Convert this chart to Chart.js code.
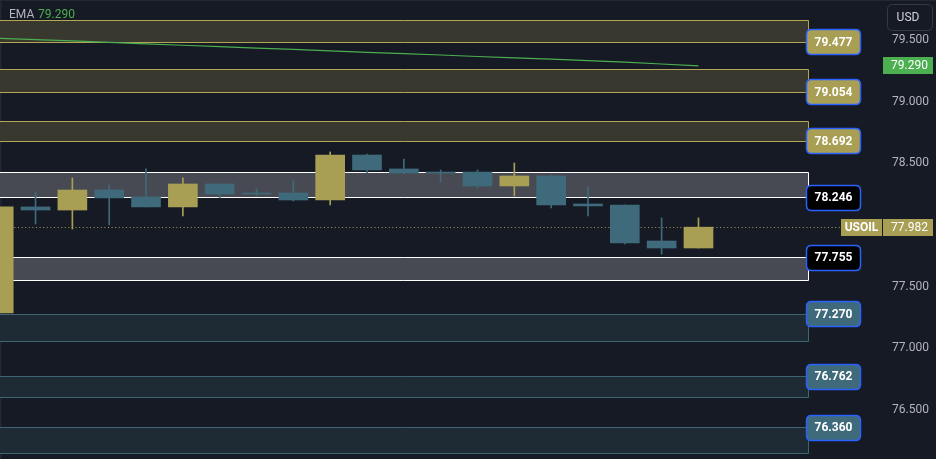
<!DOCTYPE html>
<html><head><meta charset="utf-8">
<script src="https://cdn.jsdelivr.net/npm/chart.js@4.4.1/dist/chart.umd.min.js"></script>
<style>html,body{margin:0;padding:0;background:#161a25;overflow:hidden}#wrap{width:936px;height:459px;position:relative}</style>
</head><body><div id="wrap"><canvas id="c" width="936" height="459"></canvas></div>
<script>
// ---- data ----
const candleIndex = [0,1,2,3,4,5,6,7,8,9,10,11,12,13,14,15,16,17,18,19];
const openV  = [77.286,78.146,78.121,78.283,78.227,78.146,78.332,78.259,78.259,78.202,78.567,78.454,78.429,78.429,78.316,78.397,78.170,78.162,77.870,77.813];
const highV  = [78.150,78.267,78.381,78.324,78.454,78.381,78.332,78.292,78.357,78.592,78.575,78.535,78.446,78.446,78.502,78.405,78.308,78.162,78.057,78.057];
const lowV   = [77.280,78.008,77.967,78.000,78.146,78.073,78.219,78.235,78.194,78.162,78.421,78.413,78.348,78.300,78.235,78.138,78.073,77.846,77.764,77.813];
const closeV = [78.146,78.121,78.283,78.219,78.146,78.332,78.251,78.251,78.202,78.567,78.446,78.421,78.421,78.316,78.397,78.162,78.154,77.854,77.813,77.982];
const emaV   = [79.514,79.503,79.492,79.480,79.469,79.457,79.446,79.434,79.423,79.412,79.400,79.389,79.378,79.366,79.355,79.344,79.332,79.321,79.305,79.290];

const zoneTop    = [79.658,79.262,78.846,78.429,77.736,77.278,76.775,76.358];
const zoneBottom = [79.484,79.081,78.683,78.223,77.554,77.056,76.602,76.148];
const zoneLabels = ['79.477','79.054','78.692','78.246','77.755','77.270','76.762','76.360'];
const zoneKind   = ['res','res','res','near','near','sup','sup','sup'];
const zoneSide   = ['bottom','bottom','bottom','bottom','top','top','top','top'];

const symbolName = 'USOIL';
const currencyName = 'USD';
const emaName = 'EMA';
const lastPrice = 77.982;
const emaLast = 79.290;

// ---- styling ----
const BG = '#161a25';
const UP = '#a89f55';
const DOWN = '#3f6a7b';
const FONT = 'Roboto, "Liberation Sans", "DejaVu Sans", sans-serif';
const zoneStyle = {
  res:  {fill:'#38382f', line:'#b3a654', badge:'#a89f55', text:'#ffffff'},
  near: {fill:'#474a53', line:'#ffffff', badge:'#000000', text:'#ffffff'},
  sup:  {fill:'#1e2a34', line:'#3d6575', badge:'#3f6a7b', text:'#ffffff'}
};
const candleColors = candleIndex.map((_, i) => closeV[i] >= openV[i] ? UP : DOWN);

function rr(ctx, x, y, w, h, r) {
  ctx.beginPath();
  ctx.moveTo(x + r, y);
  ctx.lineTo(x + w - r, y); ctx.quadraticCurveTo(x + w, y, x + w, y + r);
  ctx.lineTo(x + w, y + h - r); ctx.quadraticCurveTo(x + w, y + h, x + w - r, y + h);
  ctx.lineTo(x + r, y + h); ctx.quadraticCurveTo(x, y + h, x, y + h - r);
  ctx.lineTo(x, y + r); ctx.quadraticCurveTo(x, y, x + r, y);
  ctx.closePath();
}

const bgPlugin = {
  id: 'bg',
  beforeDraw(chart) {
    const ctx = chart.ctx;
    ctx.save();
    ctx.fillStyle = BG;
    ctx.fillRect(0, 0, chart.width, chart.height);
    ctx.fillStyle = '#232733';
    ctx.fillRect(0, 0, chart.width, 1);
    ctx.fillRect(0, 0, 1.5, chart.height);
    ctx.restore();
  }
};

const zonePlugin = {
  id: 'zones',
  beforeDatasetsDraw(chart) {
    const {ctx, chartArea: a, scales: {y}} = chart;
    ctx.save();
    ctx.beginPath();
    ctx.rect(a.left, a.top, a.right - a.left + 2, a.bottom - a.top);
    ctx.clip();
    zoneTop.forEach((t, i) => {
      const st = zoneStyle[zoneKind[i]];
      const y1 = Math.round(y.getPixelForValue(t)) + 0.5;
      const y2 = Math.round(y.getPixelForValue(zoneBottom[i])) + 0.5;
      const xr = a.right + 0.5;
      ctx.fillStyle = st.fill;
      ctx.fillRect(a.left, y1, xr - a.left, y2 - y1);
      ctx.strokeStyle = st.line;
      ctx.lineWidth = 1;
      ctx.beginPath();
      ctx.moveTo(a.left - 2, y1); ctx.lineTo(xr, y1); ctx.lineTo(xr, y2); ctx.lineTo(a.left - 2, y2);
      ctx.stroke();
    });
    ctx.restore();
    // dotted last price line
    const yp = Math.round(y.getPixelForValue(lastPrice)) + 0.5;
    ctx.save();
    ctx.strokeStyle = UP;
    ctx.lineWidth = 1;
    ctx.setLineDash([1, 2.6]);
    ctx.beginPath();
    ctx.moveTo(a.left, yp); ctx.lineTo(840, yp);
    ctx.stroke();
    ctx.restore();
  }
};

const labelPlugin = {
  id: 'labels',
  afterDraw(chart) {
    const {ctx, chartArea: a, scales: {y}} = chart;
    ctx.save();
    ctx.textAlign = 'center';
    ctx.textBaseline = 'middle';
    // zone badges
    zoneTop.forEach((t, i) => {
      const st = zoneStyle[zoneKind[i]];
      const v = zoneSide[i] === 'bottom' ? zoneBottom[i] : t;
      const yc = y.getPixelForValue(v);
      const x0 = a.right - 1.5, w = 54, h = 25;
      rr(ctx, x0, Math.round(yc - h / 2) + 0.5, w, h, 5);
      ctx.fillStyle = st.badge; ctx.fill();
      ctx.strokeStyle = '#2962ff'; ctx.lineWidth = 1.5; ctx.stroke();
      ctx.fillStyle = st.text;
      ctx.font = 'bold 12px ' + FONT;
      ctx.fillText(zoneLabels[i], x0 + w / 2, Math.round(yc) + 0.5);
    });
    // currency box
    rr(ctx, 887.5, 4.5, 45, 26, 5);
    ctx.fillStyle = BG; ctx.fill();
    ctx.strokeStyle = '#363a45'; ctx.lineWidth = 1; ctx.stroke();
    ctx.fillStyle = '#d1d4dc';
    ctx.font = '12px ' + FONT;
    ctx.fillText(currencyName, 908, 17.5);
    // EMA price badge
    const ye = y.getPixelForValue(emaLast);
    ctx.fillStyle = '#4caf50';
    ctx.fillRect(883, Math.round(ye - 8.5), 50, 17);
    ctx.fillStyle = '#ffffff';
    ctx.font = '12px ' + FONT;
    ctx.fillText(emaLast.toFixed(3), 909.5, Math.round(ye));
    // last price badges
    const yp = y.getPixelForValue(lastPrice);
    ctx.fillStyle = UP;
    ctx.fillRect(841, Math.round(yp - 8), 41, 17);
    ctx.fillRect(883, Math.round(yp - 8), 50, 17);
    ctx.fillStyle = '#ffffff';
    ctx.font = 'bold 12px ' + FONT;
    ctx.fillText(symbolName, 861.5, Math.round(yp) + 0.5);
    ctx.font = '12px ' + FONT;
    ctx.fillText(lastPrice.toFixed(3), 909.5, Math.round(yp) + 0.5);
    // legend
    ctx.textAlign = 'left';
    ctx.font = '12px ' + FONT;
    ctx.fillStyle = '#b2b5be';
    ctx.fillText(emaName, 9, 15);
    ctx.fillStyle = '#4caf50';
    ctx.fillText(emaLast.toFixed(3), 38, 15);
    ctx.restore();
  }
};

new Chart(document.getElementById('c'), {
  type: 'bar',
  data: {
    datasets: [
      {
        type: 'line',
        data: candleIndex.map((x, i) => ({x, y: emaV[i]})),
        borderColor: '#4caf50',
        borderWidth: 1.2,
        pointRadius: 0,
        tension: 0,
        order: 0
      },
      {
        data: candleIndex.map((x, i) => ({x, y: [openV[i], closeV[i]]})),
        backgroundColor: candleColors,
        borderWidth: 0,
        barThickness: 29,
        minBarLength: 1,
        grouped: false,
        order: 1
      },
      {
        data: candleIndex.map((x, i) => ({x, y: [lowV[i], highV[i]]})),
        backgroundColor: candleColors,
        borderWidth: 0,
        barThickness: 1,
        grouped: false,
        order: 2
      }
    ]
  },
  options: {
    responsive: false,
    animation: false,
    events: [],
    layout: {padding: 0},
    plugins: {legend: {display: false}, tooltip: {enabled: false}},
    scales: {
      x: {type: 'linear', min: 0.035, max: 21.974, display: false, offset: false},
      y: {
        position: 'right',
        min: 76.102, max: 79.824,
        grid: {display: false, drawTicks: false},
        border: {display: false},
        ticks: {
          stepSize: 0.5, includeBounds: false, padding: 84,
          color: '#b2b5be', font: {size: 12, family: FONT},
          callback: v => Number(v).toFixed(3)
        },
        afterFit(s) { s.width = 128; s.paddingTop = 0; s.paddingBottom = 0; }
      }
    }
  },
  plugins: [bgPlugin, zonePlugin, labelPlugin]
});
</script></body></html>
